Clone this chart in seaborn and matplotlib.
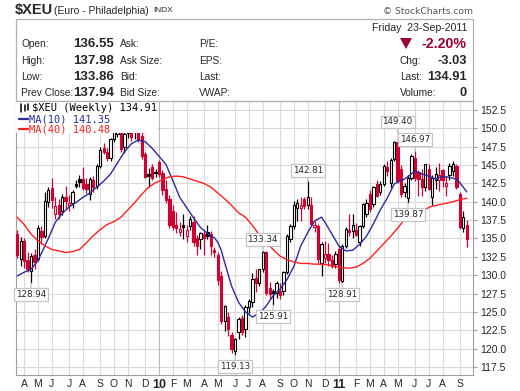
import matplotlib
matplotlib.use("Agg")
import matplotlib.pyplot as plt
import matplotlib.patches as patches
import numpy as np
import pandas as pd
import seaborn as sns

# Weekly bars for $XEU, one per week starting Monday 2009-03-23
first_week = "2009-03-23"
opens = [135.6, 132.2, 134.7, 132.1, 130.6, 132.8, 132.2, 136.0, 135.4, 140.0,
         141.9, 138.4, 139.5, 138.7, 140.7, 139.6, 139.9, 142.4, 143.1, 143.1,
         142.4, 141.0, 142.9, 142.1, 144.9, 147.3, 146.8, 146.0, 148.5, 149.2,
         150.4, 147.4, 149.9, 150.0, 149.9, 150.1, 149.0, 146.5, 143.8, 144.7,
         144.1, 145.4, 143.9, 141.8, 140.4, 138.8, 136.9, 135.9, 136.8, 135.4,
         136.7, 137.3, 135.1, 134.9, 135.6, 135.9, 135.6, 133.4, 132.7, 129.9,
         123.8, 124.3, 121.8, 119.7, 122.3, 124.2, 122.7, 125.6, 126.3, 129.6,
         129.0, 130.9, 133.1, 128.3, 127.8, 127.6, 127.9, 127.8, 130.4, 134.9,
         136.7, 139.2, 139.1, 140.4, 139.5, 139.5, 136.5, 136.7, 131.7, 132.4,
         132.9, 132.0, 131.5, 133.5, 129.2, 134.0, 136.2, 136.0, 136.1, 134.5,
         136.7, 138.3, 141.0, 139.7, 142.4, 141.4, 142.4, 144.7, 142.6, 145.8,
         148.1, 144.5, 141.3, 140.5, 143.3, 146.0, 144.0, 143.1, 142.0, 144.5,
         140.6, 143.0, 143.0, 144.3, 142.2, 143.7, 144.2, 144.9, 141.0, 136.4,
         136.8]
highs = [136.2, 135.2, 135.0, 133.1, 133.0, 133.6, 136.8, 136.7, 141.4, 142.0,
         143.2, 140.6, 140.4, 141.0, 142.2, 140.9, 141.6, 142.9, 143.6, 144.7,
         143.2, 143.4, 143.5, 145.2, 147.5, 148.0, 147.3, 148.7, 150.0, 150.5,
         150.9, 149.7, 150.4, 150.6, 150.9, 151.45, 149.8, 146.8, 144.6, 145.2,
         144.5, 145.7, 144.3, 142.9, 140.9, 139.5, 138.6, 137.2, 138.3, 136.8,
         138.1, 138.0, 135.5, 135.9, 136.0, 136.8, 136.0, 133.9, 133.2, 130.6,
         126.0, 125.0, 122.3, 121.5, 124.3, 124.6, 125.9, 126.8, 130.3, 130.8,
         130.9, 133.34, 133.3, 129.1, 128.1, 129.2, 128.9, 130.6, 135.6, 137.0,
         140.1, 140.4, 140.6, 140.6, 142.81, 140.6, 137.4, 137.0, 134.5, 134.7,
         134.4, 132.8, 133.3, 134.0, 134.3, 136.6, 138.3, 138.3, 137.1, 136.9,
         139.9, 140.4, 141.6, 142.2, 142.9, 142.8, 145.2, 145.5, 146.0, 148.3,
         149.40, 145.0, 142.6, 143.6, 146.5, 146.97, 144.3, 144.5, 145.2, 145.2,
         143.6, 144.8, 145.3, 144.5, 143.5, 145.3, 145.6, 145.2, 141.3, 138.8,
         137.5]
lows = [132.3, 131.3, 131.0, 130.5, 128.94, 130.9, 131.9, 134.3, 135.0, 139.3,
        139.2, 137.6, 137.6, 138.2, 139.0, 138.8, 139.1, 141.9, 142.0, 141.6,
        141.2, 140.3, 141.3, 141.8, 144.6, 146.5, 145.5, 145.6, 148.1, 148.8,
        146.8, 146.7, 148.7, 148.3, 148.6, 148.2, 145.8, 143.3, 142.0, 142.9,
        143.4, 143.4, 140.9, 139.8, 136.4, 136.2, 135.7, 135.4, 134.9, 134.5,
        136.1, 134.0, 132.8, 133.6, 132.8, 134.9, 132.8, 132.5, 128.6, 123.4,
        122.4, 121.7, 119.4, 119.13, 121.3, 121.8, 121.6, 124.9, 125.6, 127.7,
        128.5, 130.4, 127.3, 126.7, 125.91, 126.9, 126.8, 127.3, 130.1, 134.5,
        136.3, 137.4, 137.4, 139.0, 139.0, 136.8, 135.9, 131.6, 129.9, 131.7,
        131.3, 131.0, 131.0, 129.0, 128.91, 133.7, 135.4, 135.0, 135.3, 134.0,
        136.4, 137.9, 138.6, 139.3, 140.6, 140.9, 142.1, 143.5, 141.9, 145.5,
        142.5, 140.6, 140.6, 139.87, 143.0, 142.8, 140.8, 140.8, 141.5, 141.6,
        139.5, 141.7, 141.5, 142.0, 140.8, 143.0, 143.5, 141.8, 136.3, 135.9,
        133.86]
closes = [132.7, 134.7, 131.9, 130.8, 132.6, 131.8, 136.4, 135.2, 140.1, 141.6,
          140.3, 139.4, 138.4, 140.6, 140.1, 139.9, 141.4, 142.2, 142.7, 141.9,
          141.7, 143.1, 142.0, 144.9, 147.1, 146.8, 145.9, 148.5, 149.7, 150.1,
          147.2, 149.3, 149.4, 148.8, 149.6, 148.5, 146.3, 143.4, 143.5, 143.3,
          143.9, 143.8, 141.6, 140.3, 136.8, 136.6, 136.4, 136.3, 136.5, 136.2,
          137.7, 134.5, 134.0, 135.8, 135.1, 135.3, 134.0, 133.1, 129.4, 123.8,
          125.8, 122.6, 119.9, 121.3, 124.0, 122.3, 125.7, 126.5, 129.5, 129.0,
          130.8, 133.1, 127.6, 127.5, 127.6, 129.0, 127.3, 130.4, 135.4, 136.7,
          139.5, 139.9, 139.5, 139.4, 140.6, 137.0, 136.9, 132.2, 134.2, 132.9,
          132.1, 131.3, 132.9, 129.3, 134.0, 136.3, 135.9, 136.9, 135.5, 136.7,
          139.7, 139.9, 139.0, 142.0, 140.8, 142.4, 144.9, 144.2, 145.7, 148.1,
          142.8, 141.0, 142.2, 143.2, 146.3, 143.3, 143.1, 142.0, 145.1, 141.8,
          143.3, 143.8, 143.6, 143.0, 142.6, 144.9, 145.1, 142.0, 136.5, 137.9,
          134.91]

# moving averages at selected weeks
ma10_week = [0, 2, 4, 6, 7, 9, 11, 13, 15, 17, 19, 21, 23, 25, 27, 29, 31, 33,
             35, 37, 39, 41, 43, 45, 47, 49, 51, 53, 55, 57, 58, 59, 60, 62, 64,
             66, 68, 70, 72, 74, 76, 78, 80, 82, 84, 86, 88, 89, 91, 93, 95, 97,
             99, 101, 103, 105, 107, 109, 110, 112, 114, 115, 117, 119, 121, 123,
             125, 127, 128, 130]
ma10_val = [129.9, 130.4, 130.8, 132.0, 133.0, 135.0, 137.2, 138.4, 139.3, 139.9,
            140.6, 141.2, 142.0, 142.8, 143.8, 145.3, 146.8, 147.9, 148.4, 148.2,
            147.3, 146.2, 145.1, 142.9, 140.6, 139.2, 137.8, 136.5, 135.7, 135.1,
            134.5, 133.4, 131.7, 128.5, 126.3, 125.0, 124.3, 124.8, 125.8, 127.2,
            128.1, 129.4, 131.2, 134.0, 135.8, 137.4, 137.9, 137.2, 135.6, 134.0,
            133.3, 133.4, 134.2, 135.3, 137.0, 138.9, 140.5, 142.4, 142.7, 143.1,
            143.8, 144.2, 143.8, 143.5, 143.1, 143.5, 143.3, 143.1, 142.6, 141.35]
ma40_week = [0, 2, 4, 6, 8, 10, 12, 14, 16, 18, 20, 22, 24, 26, 28, 30, 32, 34,
             36, 38, 40, 42, 44, 46, 48, 50, 52, 54, 56, 58, 60, 62, 64, 66, 68,
             70, 72, 74, 76, 78, 80, 82, 84, 86, 88, 90, 92, 94, 96, 98, 100, 102,
             104, 106, 108, 110, 112, 114, 116, 118, 120, 122, 124, 126, 128, 130]
ma40_val = [137.9, 136.9, 135.6, 134.7, 134.0, 133.5, 133.3, 133.1, 133.2, 133.5,
            134.4, 135.4, 136.2, 136.9, 137.3, 137.9, 138.9, 139.9, 141.0, 142.0,
            142.6, 143.0, 143.4, 143.5, 143.4, 143.1, 142.8, 142.5, 142.0, 141.2,
            140.4, 139.5, 138.5, 137.9, 136.8, 135.5, 134.5, 133.5, 132.6, 132.1,
            131.8, 131.6, 131.6, 131.5, 131.5, 131.4, 131.2, 131.0, 130.95, 131.1,
            131.6, 132.3, 133.3, 134.3, 135.3, 136.4, 137.6, 138.3, 138.7, 139.0,
            139.4, 139.6, 139.8, 140.0, 140.3, 140.48]

# labelled highs and lows
call_week = [4, 63, 71, 74, 84, 94, 110, 113, 115]
call_price = [128.94, 119.13, 133.34, 125.91, 142.81, 128.91, 149.40, 139.87, 146.97]
call_above = [False, False, True, False, True, False, True, False, True]

RED = "#cc0033"
BLACK = "#000000"
NAVY = "#2b2b9c"
MA40_RED = "#ff2020"
GRID = "#dadada"
FRAME = "#a0a0a0"

sns.set_style("white")
plt.rcParams["font.family"] = ["Liberation Sans", "DejaVu Sans"]

W, H = 520, 391
fig = plt.figure(figsize=(W / 100, H / 100), dpi=100)
ax = fig.add_axes([16 / W, (H - 375) / H, 457 / W, 274 / H])

o = np.array(opens)
h = np.array(highs)
l = np.array(lows)
c = np.array(closes)
idx = np.arange(len(c))
prev = np.r_[o[0], c[:-1]]
edge = np.where(c < prev, RED, BLACK)
face = np.where(c > o, "white", edge)

ax.vlines(idx, l, h, colors=edge, lw=0.9, zorder=3)
ax.bar(idx, np.maximum(np.abs(c - o), 0.1), bottom=np.minimum(o, c), width=0.66,
       color=face, edgecolor=edge, linewidth=0.8, zorder=4)

sns.lineplot(x=ma10_week, y=ma10_val, color=NAVY, lw=1.0, ax=ax, zorder=5)
sns.lineplot(x=ma40_week, y=ma40_val, color=MA40_RED, lw=1.0, ax=ax, zorder=5)

# callout boxes
for wk, pr, up in zip(call_week, call_price, call_above):
    ax.annotate(f"{pr:.2f}", xy=(wk, pr), xytext=(0, 7.8 if up else -8.2),
                textcoords="offset points", ha="center", va="center",
                fontsize=6.3, family="DejaVu Sans", zorder=6,
                bbox=dict(boxstyle="square,pad=0.22", fc="white", ec="#c4c4c4", lw=0.9),
                arrowprops=dict(arrowstyle="-", color="#c4c4c4", lw=0.9,
                                shrinkA=0, shrinkB=0))

# axes limits, ticks, grid
ax.set_xlim(-0.35, 131.8)
ax.set_ylim(116.4, 153.73)
ax.set_yticks(np.arange(117.5, 153, 2.5))
ax.set_yticklabels([f"{v:.1f}" for v in np.arange(117.5, 153, 2.5)])
ax.yaxis.tick_right()
ax.tick_params(axis="y", length=3, width=0.8, color=FRAME, pad=2, labelsize=7.5)

dates = pd.date_range(first_week, periods=len(c), freq="7D")
month_pos, month_lab, is_year = [], [], []
for i in range(1, len(dates)):
    if dates[i].month != dates[i - 1].month:
        month_pos.append(i)
        if dates[i].month == 1:
            month_lab.append(dates[i].strftime("%y"))
            is_year.append(True)
        else:
            month_lab.append(dates[i].strftime("%b")[0])
            is_year.append(False)
ax.set_xticks(month_pos)
ax.set_xticklabels(month_lab)
ax.set_xticks(idx, minor=True)
ax.tick_params(axis="x", which="major", length=2, width=0.8, color=FRAME, pad=1, labelsize=7.5)
ax.tick_params(axis="x", which="minor", length=1.5, width=0.6, color=FRAME)
for lab, yr in zip(ax.get_xticklabels(), is_year):
    if yr:
        lab.set_fontweight("bold")
        lab.set_fontsize(9)

ax.grid(False)
for v in np.arange(117.5, 153, 2.5):
    ax.axhline(v, color=GRID, lw=0.8, zorder=0)
for p, yr in zip(month_pos, is_year):
    ax.axvline(p, color="#b8b8b8" if yr else GRID, lw=0.8, zorder=0)
for s in ax.spines.values():
    s.set_color(FRAME)
    s.set_linewidth(0.8)
ax.set_xlabel("")
ax.set_ylabel("")

# legend block in the top left of the plot
ax.add_patch(patches.Rectangle((0, 1 - 32 / 274), 141 / 457, 32 / 274, transform=ax.transAxes,
                               fc="white", ec="none", zorder=7))
mono = "DejaVu Sans Mono"
ax.text(16 / 457, 1 - 7 / 274, r"\$XEU (Weekly) 134.91", transform=ax.transAxes,
        va="center", ha="left", fontsize=7.5, family=mono, color="black", zorder=8)
for xx, y0, y1 in [(5, 3, 11), (8.5, 4, 10), (12, 3, 9)]:
    ax.plot([xx / 457, xx / 457], [1 - y0 / 274, 1 - y1 / 274], transform=ax.transAxes,
            color="black", lw=1.1, zorder=8)
ax.plot([3 / 457, 12 / 457], [1 - 18 / 274, 1 - 18 / 274], transform=ax.transAxes,
        color=NAVY, lw=1.6, zorder=8)
ax.text(13 / 457, 1 - 18 / 274, "MA(10) 141.35", transform=ax.transAxes,
        va="center", ha="left", fontsize=7.5, family=mono, color=NAVY, zorder=8)
ax.plot([3 / 457, 12 / 457], [1 - 28 / 274, 1 - 28 / 274], transform=ax.transAxes,
        color=MA40_RED, lw=1.6, zorder=8)
ax.text(13 / 457, 1 - 28 / 274, "MA(40) 140.48", transform=ax.transAxes,
        va="center", ha="left", fontsize=7.5, family=mono, color=MA40_RED, zorder=8)

# header and quote box
def ftxt(x, y, s, **kw):
    kw.setdefault("va", "center")
    fig.text(x / W, 1 - y / H, s, **kw)

fig.add_artist(patches.Rectangle((16 / W, 1 - 101 / H), 457 / W, 82 / H,
                                 transform=fig.transFigure, fill=False, ec="#b0b0b0", lw=0.9))
ftxt(15, 10, r"\$XEU", fontsize=10.5, fontweight="bold")
ftxt(54, 10.5, "(Euro - Philadelphia)", fontsize=7.5)
ftxt(153, 11, "INDX", fontsize=6)
ftxt(473, 12, "\u00a9 StockCharts.com", ha="right", fontsize=6.6, family="DejaVu Sans", color="#555555")

rows_y = [44, 60.5, 77, 93.5]
for y, lab, val, lab2, lab3 in zip(rows_y, ["Open:", "High:", "Low:", "Prev Close:"],
                                   ["136.55", "137.98", "133.86", "137.94"],
                                   ["Ask:", "Ask Size:", "Bid:", "Bid Size:"],
                                   ["P/E:", "EPS:", "Last:", "VWAP:"]):
    ftxt(21, y, lab, fontsize=7.3)
    ftxt(73, y, val, fontsize=9.5, fontweight="bold")
    ftxt(120, y, lab2, fontsize=7.3)
    ftxt(199, y, lab3, fontsize=7.3)

ftxt(467, 28, "Friday  23-Sep-2011", ha="right", fontsize=7.6)
tri = [(400, 38), (412, 38), (406, 49)]
fig.add_artist(patches.Polygon([(x / W, 1 - y / H) for x, y in tri], closed=True,
                               transform=fig.transFigure, fc="#990033", ec="none"))
ftxt(467, 44, "-2.20%", ha="right", fontsize=10.2, fontweight="bold", color="#990033")
for y, lab, val in zip([61, 77, 93], ["Chg:", "Last:", "Volume:"], ["-3.03", "134.91", "0"]):
    ftxt(400, y, lab, fontsize=7.3)
    ftxt(467, y, val, ha="right", fontsize=9.3, fontweight="bold")

fig.savefig("out.png", dpi=100)
